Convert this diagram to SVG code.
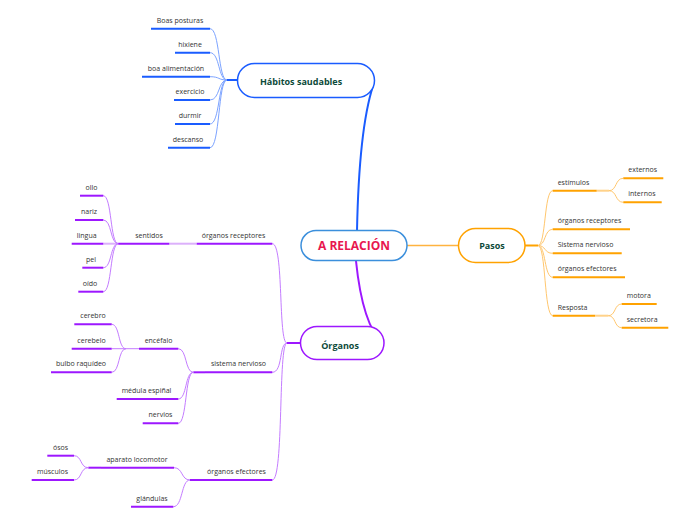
<svg xmlns="http://www.w3.org/2000/svg" width="696" height="520" viewBox="0 0 696 520">
<style>
.t{font-family:"Open Sans","Noto Sans",sans-serif;font-size:7px;fill:#333}
.m{text-anchor:middle}
.n{font-family:"Open Sans","Noto Sans",sans-serif;font-weight:bold;font-size:9px;fill:#0d4a3a;text-anchor:middle}
.ub{stroke:#1a5cff;stroke-width:2;fill:none}
.cb{stroke:#7ca3ff;stroke-width:1;fill:none}
.up{stroke:#9d17ff;stroke-width:2;fill:none}
.cp{stroke:#c47cff;stroke-width:1;fill:none}
.lp{stroke:#dcb0fb;stroke-width:2;fill:none}
.uo{stroke:#ffa200;stroke-width:2;fill:none}
.co{stroke:#ffc76e;stroke-width:1;fill:none}
.lo{stroke:#ffd28a;stroke-width:2;fill:none}
</style>
<rect width="696" height="520" fill="#fff"/>
<g id="connectors">
<path d="M357,231 C358,180 362,120 373,86" stroke="#1a5cff" stroke-width="2" fill="none"/>
<path d="M356,261 C360,300 368,330 383,344" stroke="#9d17ff" stroke-width="2" fill="none"/>
<path d="M407,245.5 L458,245.5" stroke="#ffb340" stroke-width="1.5" fill="none"/>
<path d="M237,80 L227,80" class="ub"/>
<path d="M210,28.7 C220,28.7 218,80 227,80" class="cb"/>
<path d="M210,52.7 C220,52.7 218,80 227,80" class="cb"/>
<path d="M210,76.7 C220,76.7 218,80 227,80" class="cb"/>
<path d="M210,100 C220,100 218,80 227,80" class="cb"/>
<path d="M210,124 C220,124 218,80 227,80" class="cb"/>
<path d="M210,147.7 C220,147.7 218,80 227,80" class="cb"/>
<path d="M300,343 L287,343" class="up"/>
<path d="M272.3,243.7 C284,243.7 278,343 287,343" class="cp"/>
<path d="M272.3,372.3 C283,372.3 279,343 287,343" class="cp"/>
<path d="M272.3,480 C284,480 278,343 287,343" class="cp"/>
<path d="M169.3,243.7 L196.7,243.7" class="lp"/>
<path d="M103.3,243.7 L118.3,243.7" class="lp"/>
<path d="M103.3,195.7 C112,195.7 110,243.7 118.3,243.7" class="cp"/>
<path d="M103.3,220 C112,220 110,243.7 118.3,243.7" class="cp"/>
<path d="M103.3,267.7 C112,267.7 110,243.7 118.3,243.7" class="cp"/>
<path d="M103.3,291.7 C112,291.7 110,243.7 118.3,243.7" class="cp"/>
<path d="M111.7,348.7 L139,348.7" class="cp"/>
<path d="M111.7,324.3 C120,324.3 118,348.7 126,348.7" class="cp"/>
<path d="M111.7,372.3 C120,372.3 118,348.7 126,348.7" class="cp"/>
<path d="M193.3,372.3 L205,372.3" class="up"/>
<path d="M178.3,348.7 C187,348.7 185,372.3 193.3,372.3" class="cp"/>
<path d="M178.3,399 C187,399 185,372.3 193.3,372.3" class="cp"/>
<path d="M178.3,423.3 C187,423.3 185,372.3 193.3,372.3" class="cp"/>
<path d="M190,480 L201,480" class="up"/>
<path d="M174,467.7 C183,467.7 181,480 190,480" class="cp"/>
<path d="M173.3,506.7 C183,506.7 181,480 190,480" class="cp"/>
<path d="M88.3,467.7 L101,467.7" class="up"/>
<path d="M74,455.7 C82,455.7 80,467.7 88.3,467.7" class="cp"/>
<path d="M74,480 C82,480 80,467.7 88.3,467.7" class="cp"/>
<path d="M525,245.5 L538,245.5" class="uo"/>
<path d="M538,245.5 C546,245.5 544,190.7 552.7,190.7" class="co"/>
<path d="M538,245.5 C546,245.5 544,229.3 552.7,229.3" class="co"/>
<path d="M538,245.5 C546,245.5 544,253.3 552.7,253.3" class="co"/>
<path d="M538,245.5 C546,245.5 544,277.3 552.7,277.3" class="co"/>
<path d="M538,245.5 C546,245.5 544,315.7 552.7,315.7" class="co"/>
<path d="M596.7,190.7 L609,190.7" class="lo"/>
<path d="M609,190.7 C617,190.7 615,178.3 623.3,178.3" class="co"/>
<path d="M609,190.7 C617,190.7 615,202.3 623.3,202.3" class="co"/>
<path d="M595,315.7 L608.3,315.7" class="lo"/>
<path d="M608.3,315.7 C616,315.7 614,304 621.7,304" class="co"/>
<path d="M608.3,315.7 C616,315.7 614,327.7 621.7,327.7" class="co"/>
</g>
<g id="central">
<rect x="301" y="230.5" width="106" height="30" rx="15" fill="#fff" stroke="#3b8fdc" stroke-width="1.5"/>
<text x="354" y="249.8" class="n" style="font-size:12px;fill:#e8174f">A RELACIÓN</text>
</g>
<g id="habitos">
<rect x="237.5" y="63.5" width="137" height="34" rx="17" fill="#fff" stroke="#1a5cff" stroke-width="1.5"/>
<text x="301" y="85" class="n">Hábitos saudables</text>
</g>
<g id="pasos">
<rect x="458.5" y="228.5" width="66.5" height="34" rx="17" fill="#fff" stroke="#ffa200" stroke-width="1.5"/>
<text x="492" y="249" class="n">Pasos</text>
</g>
<g id="organos">
<rect x="300.5" y="326.5" width="83.5" height="33" rx="16.5" fill="#fff" stroke="#9d17ff" stroke-width="1.5"/>
<text x="340" y="348.5" class="n">Órganos</text>
</g>
<g id="boas-posturas"><path d="M151,28.7 H210" class="ub"/><text x="180" y="22.7" class="t m">Boas posturas</text></g>
<g id="hixiene"><path d="M175,52.7 H210" class="ub"/><text x="190" y="46.7" class="t m">hixiene</text></g>
<g id="boa-alimentacion"><path d="M142,76.7 H210" class="ub"/><text x="176" y="70.7" class="t m">boa alimentación</text></g>
<g id="exercicio"><path d="M174,100 H210" class="ub"/><text x="190" y="94" class="t m">exercicio</text></g>
<g id="durmir"><path d="M175,124 H210" class="ub"/><text x="190" y="118" class="t m">durmir</text></g>
<g id="descanso"><path d="M168,147.7 H210" class="ub"/><text x="188" y="141.7" class="t m">descanso</text></g>
<g id="organos-receptores"><path d="M196.7,243.7 H272.3" class="up"/><text x="233.5" y="237.7" class="t m">órganos receptores</text></g>
<g id="sentidos"><path d="M118.3,243.7 H169.3" class="up"/><text x="149" y="237.7" class="t m">sentidos</text></g>
<g id="ollo"><path d="M80,195.7 H103.3" class="up"/><text x="91.5" y="189.7" class="t m">ollo</text></g>
<g id="nariz"><path d="M75,220 H103.3" class="up"/><text x="89" y="214" class="t m">nariz</text></g>
<g id="lingua"><path d="M71.7,243.7 H103.3" class="up"/><text x="86.7" y="237.7" class="t m">lingua</text></g>
<g id="pel"><path d="M82.3,267.7 H103.3" class="up"/><text x="91" y="261.7" class="t m">pel</text></g>
<g id="oido"><path d="M78.3,291.7 H103.3" class="up"/><text x="90" y="285.7" class="t m">oído</text></g>
<g id="sistema-nervioso"><path d="M205,372.3 H272.3" class="up"/><text x="238.5" y="366.3" class="t m">sistema nervioso</text></g>
<g id="encefalo"><path d="M139,348.7 H178.3" class="up"/><text x="158.5" y="342.7" class="t m">encéfalo</text></g>
<g id="cerebro"><path d="M74.3,324.3 H111.7" class="up"/><text x="93" y="318.3" class="t m">cerebro</text></g>
<g id="cerebelo"><path d="M71.7,348.7 H111.7" class="up"/><text x="91.5" y="342.7" class="t m">cerebelo</text></g>
<g id="bulbo-raquideo"><path d="M51,372.3 H111.7" class="up"/><text x="81" y="366.3" class="t m">bulbo raquídeo</text></g>
<g id="medula-espinal"><path d="M116.7,399 H178.3" class="up"/><text x="146.5" y="393" class="t m">médula espiñal</text></g>
<g id="nervios"><path d="M142.7,423.3 H178.3" class="up"/><text x="160.5" y="417.3" class="t m">nervios</text></g>
<g id="organos-efectores"><path d="M201,480 H272.3" class="up"/><text x="236.5" y="474" class="t m">órganos efectores</text></g>
<g id="aparato-locomotor"><path d="M101,467.7 H174" class="up"/><text x="137" y="461.7" class="t m">aparato locomotor</text></g>
<g id="osos"><path d="M47.3,455.7 H74" class="up"/><text x="60.5" y="449.7" class="t m">ósos</text></g>
<g id="musculos"><path d="M31.7,480 H74" class="up"/><text x="52.5" y="474" class="t m">músculos</text></g>
<g id="glandulas"><path d="M131,506.7 H173.3" class="up"/><text x="152" y="500.7" class="t m">glándulas</text></g>
<g id="estimulos"><path d="M552.7,190.7 H596.7" class="uo"/><text x="557.7" y="184.7" class="t">estímulos</text></g>
<g id="externos"><path d="M623.3,178.3 H663.3" class="uo"/><text x="628.3" y="172.3" class="t">externos</text></g>
<g id="internos"><path d="M623.3,202.3 H661.7" class="uo"/><text x="628.3" y="196.3" class="t">internos</text></g>
<g id="p-organos-receptores"><path d="M552.7,229.3 H630" class="uo"/><text x="557.7" y="223.3" class="t">órganos receptores</text></g>
<g id="p-sistema-nervioso"><path d="M552.7,253.3 H621.7" class="uo"/><text x="557.7" y="247.3" class="t">Sistema nervioso</text></g>
<g id="p-organos-efectores"><path d="M552.7,277.3 H625" class="uo"/><text x="557.7" y="271.3" class="t">órganos efectores</text></g>
<g id="resposta"><path d="M552.7,315.7 H595" class="uo"/><text x="557.7" y="309.7" class="t">Resposta</text></g>
<g id="motora"><path d="M621.7,304 H656.7" class="uo"/><text x="626.7" y="298" class="t">motora</text></g>
<g id="secretora"><path d="M621.7,327.7 H668.3" class="uo"/><text x="626.7" y="321.7" class="t">secretora</text></g>
</svg>
